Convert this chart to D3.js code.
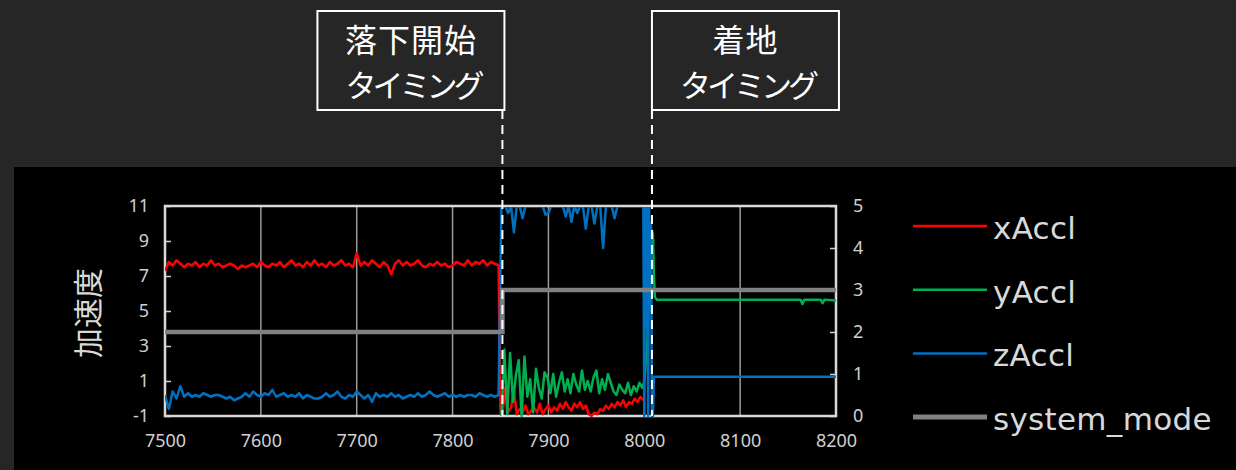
<!DOCTYPE html>
<html>
<head>
<meta charset="utf-8">
<script src="https://cdn.jsdelivr.net/npm/d3@7"></script>
<style>
  body { margin: 0; background: #262626; }
  text { font-family: "Noto Sans", sans-serif; }
  .jp { font-family: "Noto Sans CJK JP", sans-serif; }
</style>
</head>
<body>
<script>
// tick labels
var xTicks = [7500, 7600, 7700, 7800, 7900, 8000, 8100, 8200];
var yTicks = [-1, 1, 3, 5, 7, 9, 11];
var modeTicks = [0, 1, 2, 3, 4, 5];

// before the drop, sampled every 4 ms from 7500
var xPre = [7.3, 7.8, 7.6, 7.9, 7.7, 7.5, 7.7, 7.6, 7.8, 7.5,
  7.7, 7.6, 7.9, 7.6, 7.7, 7.5, 7.6, 7.7, 7.6, 7.4,
  7.6, 7.5, 7.6, 7.7, 7.5, 7.8, 7.6, 7.5, 7.7, 7.6,
  7.8, 7.5, 7.7, 7.9, 7.6, 7.7, 7.5, 7.8, 7.6, 7.9,
  7.6, 7.7, 7.5, 7.8, 7.6, 7.7, 7.9, 7.6, 7.7, 7.5,
  8.3, 7.6, 7.8, 7.6, 7.9, 7.7, 7.5, 7.8, 7.6, 7.1,
  7.7, 7.9, 7.6, 7.8, 7.6, 7.7, 7.9, 7.6, 7.5, 7.7,
  7.6, 7.8, 7.6, 7.7, 7.5, 7.6, 7.8, 7.7, 7.6, 7.9,
  7.6, 7.8, 7.7, 7.9, 7.6, 7.8, 7.7, 7.6];
var zPre = [0.2, -0.6, 0.4, 0.0, 0.7, 0.1, 0.3, 0.1, 0.2, 0.1,
  0.3, 0.2, 0.1, 0.2, 0.2, 0.1, 0.0, 0.1, -0.1, 0.0,
  0.1, 0.3, 0.1, 0.4, 0.2, 0.1, 0.3, 0.2, 0.5, 0.1,
  0.2, 0.3, 0.1, 0.2, 0.1, 0.3, 0.0, 0.2, 0.1, 0.0,
  0.0, 0.1, 0.3, 0.1, 0.2, 0.4, 0.1, 0.0, 0.2, 0.1,
  0.4, 0.2, 0.0, 0.2, -0.2, 0.3, 0.1, 0.2, 0.1, 0.3,
  0.1, 0.2, 0.0, 0.1, 0.2, 0.1, 0.3, 0.1, 0.2, 0.4,
  0.2, 0.1, 0.2, 0.3, 0.1, 0.2, 0.1, 0.2, 0.1, 0.2,
  0.2, 0.1, 0.3, 0.2, 0.1, 0.2, 0.1, 0.2];

// free fall, sampled every 3 ms
var xFall = [-0.9, 0.6, -0.8, -0.5, 0.4, -0.9, -0.6, -0.8, -0.4, -0.9,
  -0.7, -0.5, -0.8, -0.3, -0.9, -0.6, -0.4, -0.8, -0.5, -0.7,
  -0.3, -0.6, -0.2, -0.5, -0.7, -0.3, -0.5, -0.2, -0.6, -0.4,
  -0.9, -1.0, -0.8, -0.9, -0.6, -0.7, -0.4, -0.6, -0.3, -0.5,
  -0.2, -0.4, -0.1, -0.5, -0.2, -0.3, 0.0, -0.2, 0.1, -0.1];
var yFall = [-1.0, 2.8, -0.9, 2.6, -0.2, 1.3, 2.2, -1.0, 2.4, 0.1,
  1.1, -0.8, 1.7, 0.6, 0.0, 1.5, 1.2, 0.3, 1.4, 0.1,
  0.9, 1.5, 0.4, 1.1, 0.3, 1.4, 0.8, 0.4, 1.6, 0.5,
  1.0, 0.4, 1.2, 1.6, 0.3, 1.1, 0.5, 1.4, 0.9, 0.4,
  0.2, 0.8, 0.5, 0.3, 0.9, 0.2, 0.7, 0.4, 0.9, 0.6];
var zFall = [11, 11, 10.6, 11, 9.5, 11, 11, 10.3, 11, 11,
  11, 11, 11, 11, 11, 10.5, 10.6, 11, 11, 11,
  11, 11, 10.4, 11, 10.1, 11, 10.6, 11, 11, 9.7,
  11, 11, 10.0, 11, 11, 8.6, 11, 11, 11, 10.3,
  11, 11, 11, 11, 11, 11, 11, 11, 11, 11];

// landing and after
var yLandT = [8000, 8003, 8006, 8008, 8009, 8010, 8011, 8013, 8050, 8100, 8150, 8163, 8165, 8167, 8184, 8186, 8188, 8200];
var yLandV = [1.0, 3.0, 8.0, 9.6, 9.4, 7.0, 5.8, 5.65, 5.65, 5.65, 5.65, 5.65, 5.4, 5.65, 5.65, 5.45, 5.65, 5.6];
var zLandT = [7999, 8000, 8001, 8002, 8003, 8004, 8005, 8006, 8007, 8008, 8009, 8010, 8050, 8100, 8150, 8200];
var zLandV = [11, -1, 11, 4, 11, -1, 11, 5, 10, -1, -1, 1.25, 1.25, 1.25, 1.25, 1.25];

var modeT = [7500, 7852, 8200];
var modeV = [2, 3, 3];

var events = [7852, 8008];
var eventLabels = [["落下開始", "タイミング"], ["着地", "タイミング"]];

var seriesNames = ["xAccl", "yAccl", "zAccl", "system_mode"];
var seriesColors = ["#ff0000", "#00b050", "#0070c0", "#808080"];

// build point lists
var preT = d3.range(7500, 7849, 4);
var fallT = d3.range(7852, 8000, 3);
var xData = preT.map(function(t, i) { return [t, xPre[i]]; })
  .concat([[7850, -0.8]])
  .concat(fallT.map(function(t, i) { return [t, xFall[i]]; }));
var yData = fallT.map(function(t, i) { return [t - 1, yFall[i]]; })
  .concat(yLandT.map(function(t, i) { return [t, yLandV[i]]; }));
var zData = preT.map(function(t, i) { return [t, zPre[i]]; })
  .concat([[7851, 11]])
  .concat(fallT.map(function(t, i) { return [t, zFall[i]]; }))
  .concat(zLandT.map(function(t, i) { return [t, zLandV[i]]; }));
var modeData = modeT.map(function(t, i) { return [t, modeV[i]]; });

var margin = {top: 206, left: 165},
  width = 671,
  height = 210;

var svg = d3.select("body").append("svg")
  .attr("width", 1236)
  .attr("height", 470);

svg.append("rect").attr("width", 1236).attr("height", 470).attr("fill", "#262626");
svg.append("rect").attr("x", 14).attr("y", 167).attr("width", 1222).attr("height", 303).attr("fill", "#000");

var g = svg.append("g")
  .attr("transform", "translate(" + margin.left + "," + margin.top + ")");

var x = d3.scaleLinear().domain([7500, 8200]).range([0, width]);
var y = d3.scaleLinear().domain([-1, 11]).range([height, 0]);
var y2 = d3.scaleLinear().domain([0, 5]).range([height, 0]);

// vertical grid
g.selectAll("line.grid")
  .data(xTicks.slice(1, -1))
  .enter().append("line")
  .attr("class", "grid")
  .attr("x1", function(d) { return x(d); })
  .attr("x2", function(d) { return x(d); })
  .attr("y1", 0).attr("y2", height)
  .attr("stroke", "#9a9a9a").attr("stroke-width", 1.5);

// axes
var plain = function(d) { return String(d); };
var yAxis = d3.axisLeft(y).tickValues(yTicks).tickFormat(plain).tickSizeInner(-6).tickSizeOuter(0).tickPadding(16);
var y2Axis = d3.axisRight(y2).tickValues(modeTicks).tickFormat(plain).tickSizeInner(-6).tickSizeOuter(0).tickPadding(17);
var xAxis = d3.axisBottom(x).tickValues(xTicks).tickFormat(plain).tickSize(0).tickPadding(18);

function styleAxis(sel) {
  sel.select(".domain").remove();
  sel.selectAll("line").attr("stroke", "#d0d0d0").attr("stroke-width", 1.5);
  sel.selectAll("text").attr("fill", "#d0d0d0").style("font-size", "18px").style("font-family", "Noto Sans");
}

g.append("g").call(yAxis).call(styleAxis);
g.append("g").attr("transform", "translate(" + width + ",0)").call(y2Axis).call(styleAxis);
g.append("g").attr("transform", "translate(0," + height + ")").call(xAxis).call(styleAxis);

g.append("rect")
  .attr("width", width).attr("height", height)
  .attr("fill", "none").attr("stroke", "#d9d9d9").attr("stroke-width", 2.5);

// series
g.append("clipPath").attr("id", "clip")
  .append("rect").attr("x", 0).attr("y", 1).attr("width", width).attr("height", height);

var line = d3.line().x(function(d) { return x(d[0]); }).y(function(d) { return y(d[1]); });
var stepLine = d3.line().curve(d3.curveStepAfter)
  .x(function(d) { return x(d[0]); }).y(function(d) { return y2(d[1]); });

var plot = g.append("g").attr("clip-path", "url(#clip)");
[xData, yData, zData].forEach(function(data, i) {
  plot.append("path").datum(data)
    .attr("d", line)
    .attr("fill", "none")
    .attr("stroke", seriesColors[i])
    .attr("stroke-width", 2.5)
    .attr("stroke-linejoin", "round");
});
plot.append("path").datum(modeData)
  .attr("d", stepLine)
  .attr("fill", "none")
  .attr("stroke", seriesColors[3])
  .attr("stroke-width", 4.5);

// y label
svg.append("text")
  .attr("class", "jp")
  .attr("transform", "translate(99,313) rotate(-90)")
  .attr("text-anchor", "middle")
  .attr("fill", "#d9d9d9")
  .style("font-size", "30px")
  .text("加速度");

// legend
var legend = svg.selectAll("g.legend")
  .data(seriesNames)
  .enter().append("g")
  .attr("class", "legend")
  .attr("transform", function(d, i) { return "translate(913," + (226 + i * 63.7) + ")"; });
legend.append("line")
  .attr("x1", 0).attr("x2", 74)
  .attr("stroke", function(d, i) { return seriesColors[i]; })
  .attr("stroke-width", function(d, i) { return i == 3 ? 5 : 2.5; });
legend.append("text")
  .attr("x", 80).attr("y", 2)
  .attr("dominant-baseline", "central")
  .attr("fill", "#d9d9d9")
  .style("font-family", "DejaVu Sans")
  .style("font-size", "31px")
  .style("letter-spacing", "0.3px")
  .text(function(d) { return d; });

// timing markers
var boxW = 187, boxTop = 11, boxH = 99;
events.forEach(function(t, i) {
  var ex = margin.left + x(t);
  var bx = i == 0 ? ex + 2 - boxW : ex;
  svg.append("line")
    .attr("x1", ex).attr("x2", ex)
    .attr("y1", boxTop + boxH).attr("y2", margin.top + height)
    .attr("stroke", "#fff").attr("stroke-width", 2)
    .attr("stroke-dasharray", "9,6");
  svg.append("rect")
    .attr("x", bx).attr("y", boxTop)
    .attr("width", boxW).attr("height", boxH)
    .attr("fill", "none").attr("stroke", "#fff").attr("stroke-width", 2);
  svg.append("text")
    .attr("class", "jp")
    .attr("x", bx + boxW / 2).attr("y", 52)
    .attr("text-anchor", "middle")
    .attr("fill", "#fff")
    .style("font-size", "32px")
    .style("letter-spacing", "1px")
    .text(eventLabels[i][0]);
  svg.append("text")
    .attr("class", "jp")
    .attr("x", bx + boxW / 2 + 2).attr("y", 97)
    .attr("text-anchor", "middle")
    .attr("fill", "#fff")
    .style("font-size", "31px")
    .style("letter-spacing", "-4px")
    .text(eventLabels[i][1]);
});
</script>
</body>
</html>
